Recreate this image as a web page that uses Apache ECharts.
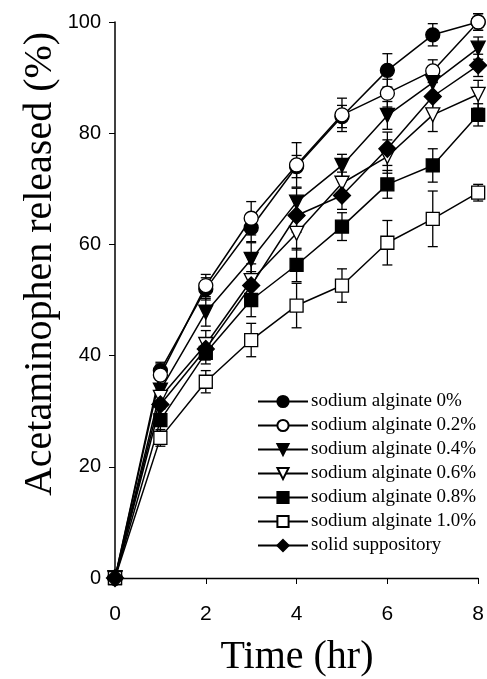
<!DOCTYPE html>
<html>
<head>
<meta charset="utf-8">
<title>Acetaminophen release</title>
<script src="https://cdn.jsdelivr.net/npm/echarts@6/dist/echarts.min.js"></script>
<style>
  html, body { margin: 0; padding: 0; background: #fff; }
  #main { width: 487px; height: 679px; }
</style>
</head>
<body>
<div id="main"></div>
<script>
// time points (hr)
var times = [0, 1, 2, 3, 4, 5, 6, 7, 8];

// % released
var alg0   = [0, 37.3, 52.0, 63.0, 74.0, 83.0, 91.3, 97.7, 100];
var alg02  = [0, 36.5, 52.6, 64.7, 74.3, 83.3, 87.2, 91.2, 100];
var alg04  = [0, 33.8, 47.8, 57.3, 67.6, 74.2, 83.2, 89.1, 95.3];
var alg06  = [0, 32.5, 42.0, 53.5, 62.0, 71.0, 75.8, 83.3, 87.0];
var alg08  = [0, 28.4, 40.5, 50.0, 56.3, 63.2, 70.8, 74.2, 83.3];
var alg10  = [0, 25.2, 35.3, 42.8, 49.0, 52.6, 60.3, 64.6, 69.3];
var solid  = [0, 31.2, 41.2, 52.6, 65.2, 68.8, 77.2, 86.6, 92.2];

// error bar half widths (SD)
var err0  = [0, 1.5, 2.0, 2.5, 2.0, 2.0, 3.0, 2.0, 1.5];
var err02 = [0, 2.0, 2.0, 3.0, 4.0, 3.0, 2.5, 2.0, 1.5];
var err04 = [0, 2.0, 2.5, 3.0, 2.5, 2.0, 2.5, 2.5, 2.0];
var err06 = [0, 2.0, 2.5, 3.0, 3.0, 2.0, 3.0, 3.0, 2.5];
var err08 = [0, 2.0, 2.0, 3.0, 3.0, 2.5, 2.5, 3.0, 2.0];
var err10 = [0, 1.5, 2.0, 3.0, 4.0, 3.0, 4.0, 5.0, 1.5];
var errS  = [0, 2.0, 2.0, 2.5, 3.0, 2.5, 3.0, 2.5, 2.0];

var names = ['sodium alginate 0%', 'sodium alginate 0.2%', 'sodium alginate 0.4%',
             'sodium alginate 0.6%', 'sodium alginate 0.8%', 'sodium alginate 1.0%',
             'solid suppository'];

var downTri = 'path://M0,0 L10,0 L5,9 Z';

var sets = [
  { vals: alg0,  errs: err0,  symbol: 'circle',  size: 14, fill: '#000' },
  { vals: alg02, errs: err02, symbol: 'circle',  size: 14, fill: '#fff' },
  { vals: alg04, errs: err04, symbol: downTri,   size: 14, fill: '#000' },
  { vals: alg06, errs: err06, symbol: downTri,   size: 14, fill: '#fff' },
  { vals: alg08, errs: err08, symbol: 'rect',    size: 13, fill: '#000' },
  { vals: alg10, errs: err10, symbol: 'rect',    size: 13, fill: '#fff' },
  { vals: solid, errs: errS,  symbol: 'diamond', size: 17, fill: '#000' }
];

function errorBars(vals, errs) {
  var d = [];
  for (var i = 0; i < times.length; i++) {
    if (errs[i] > 0) d.push([times[i], vals[i] - errs[i], vals[i] + errs[i]]);
  }
  return {
    type: 'custom',
    z: 1,
    silent: true,
    data: d,
    renderItem: function (params, api) {
      var lo = api.coord([api.value(0), api.value(1)]);
      var hi = api.coord([api.value(0), api.value(2)]);
      var w = 5;
      var st = { stroke: '#000', lineWidth: 1.3 };
      return {
        type: 'group',
        children: [
          { type: 'line', shape: { x1: lo[0], y1: lo[1], x2: hi[0], y2: hi[1] }, style: st },
          { type: 'line', shape: { x1: hi[0] - w, y1: hi[1], x2: hi[0] + w, y2: hi[1] }, style: st },
          { type: 'line', shape: { x1: lo[0] - w, y1: lo[1], x2: lo[0] + w, y2: lo[1] }, style: st }
        ]
      };
    }
  };
}

var series = [];
for (var k = 0; k < sets.length; k++) {
  series.push(errorBars(sets[k].vals, sets[k].errs));
}
for (var k = 0; k < sets.length; k++) {
  var s = sets[k];
  var pts = [];
  for (var i = 0; i < times.length; i++) pts.push([times[i], s.vals[i]]);
  series.push({
    name: names[k],
    type: 'line',
    z: 2 + k,
    data: pts,
    symbol: s.symbol,
    symbolSize: s.size,
    showAllSymbol: true,
    clip: false,
    lineStyle: { color: '#000', width: 1.5 },
    itemStyle: { color: s.fill, borderColor: '#000', borderWidth: 1.3 },
    emphasis: { disabled: true }
  });
}

var myChart = echarts.init(document.getElementById('main'));
var option = {
  animation: false,
  backgroundColor: '#fff',
  grid: { left: 115, right: 4, top: 22, bottom: 101 },
  xAxis: {
    type: 'value',
    min: 0, max: 8, interval: 2,
    splitLine: { show: false },
    axisLine: { lineStyle: { color: '#000', width: 1.3 } },
    axisTick: { lineStyle: { color: '#000' }, length: 6 },
    axisLabel: { color: '#000', fontFamily: 'Liberation Sans', fontSize: 21, margin: 26 }
  },
  yAxis: {
    type: 'value',
    min: 0, max: 100, interval: 20,
    splitLine: { show: false },
    axisLine: { show: true, lineStyle: { color: '#000', width: 1.5 } },
    axisTick: { show: true, lineStyle: { color: '#000' }, length: 6 },
    axisLabel: { color: '#000', fontFamily: 'Liberation Sans', fontSize: 20, margin: 14 }
  },
  legend: {
    data: names,
    orient: 'vertical',
    left: 252,
    top: 387,
    itemWidth: 50,
    itemHeight: 14,
    itemGap: 5,
    selectedMode: false,
    textStyle: { color: '#000', fontFamily: 'Liberation Serif', fontSize: 19, padding: [0, 0, 0, -2] }
  },
  graphic: [
    {
      type: 'text',
      x: 40, y: 264,
      rotation: Math.PI / 2,
      style: {
        text: 'Acetaminophen released (%)',
        font: '40px "Liberation Serif"',
        fill: '#000',
        textAlign: 'center',
        textVerticalAlign: 'middle'
      }
    },
    {
      type: 'text',
      x: 297, y: 657,
      style: {
        text: 'Time (hr)',
        font: '40px "Liberation Serif"',
        fill: '#000',
        textAlign: 'center',
        textVerticalAlign: 'middle'
      }
    }
  ],
  series: series
};
myChart.setOption(option);
</script>
</body>
</html>
